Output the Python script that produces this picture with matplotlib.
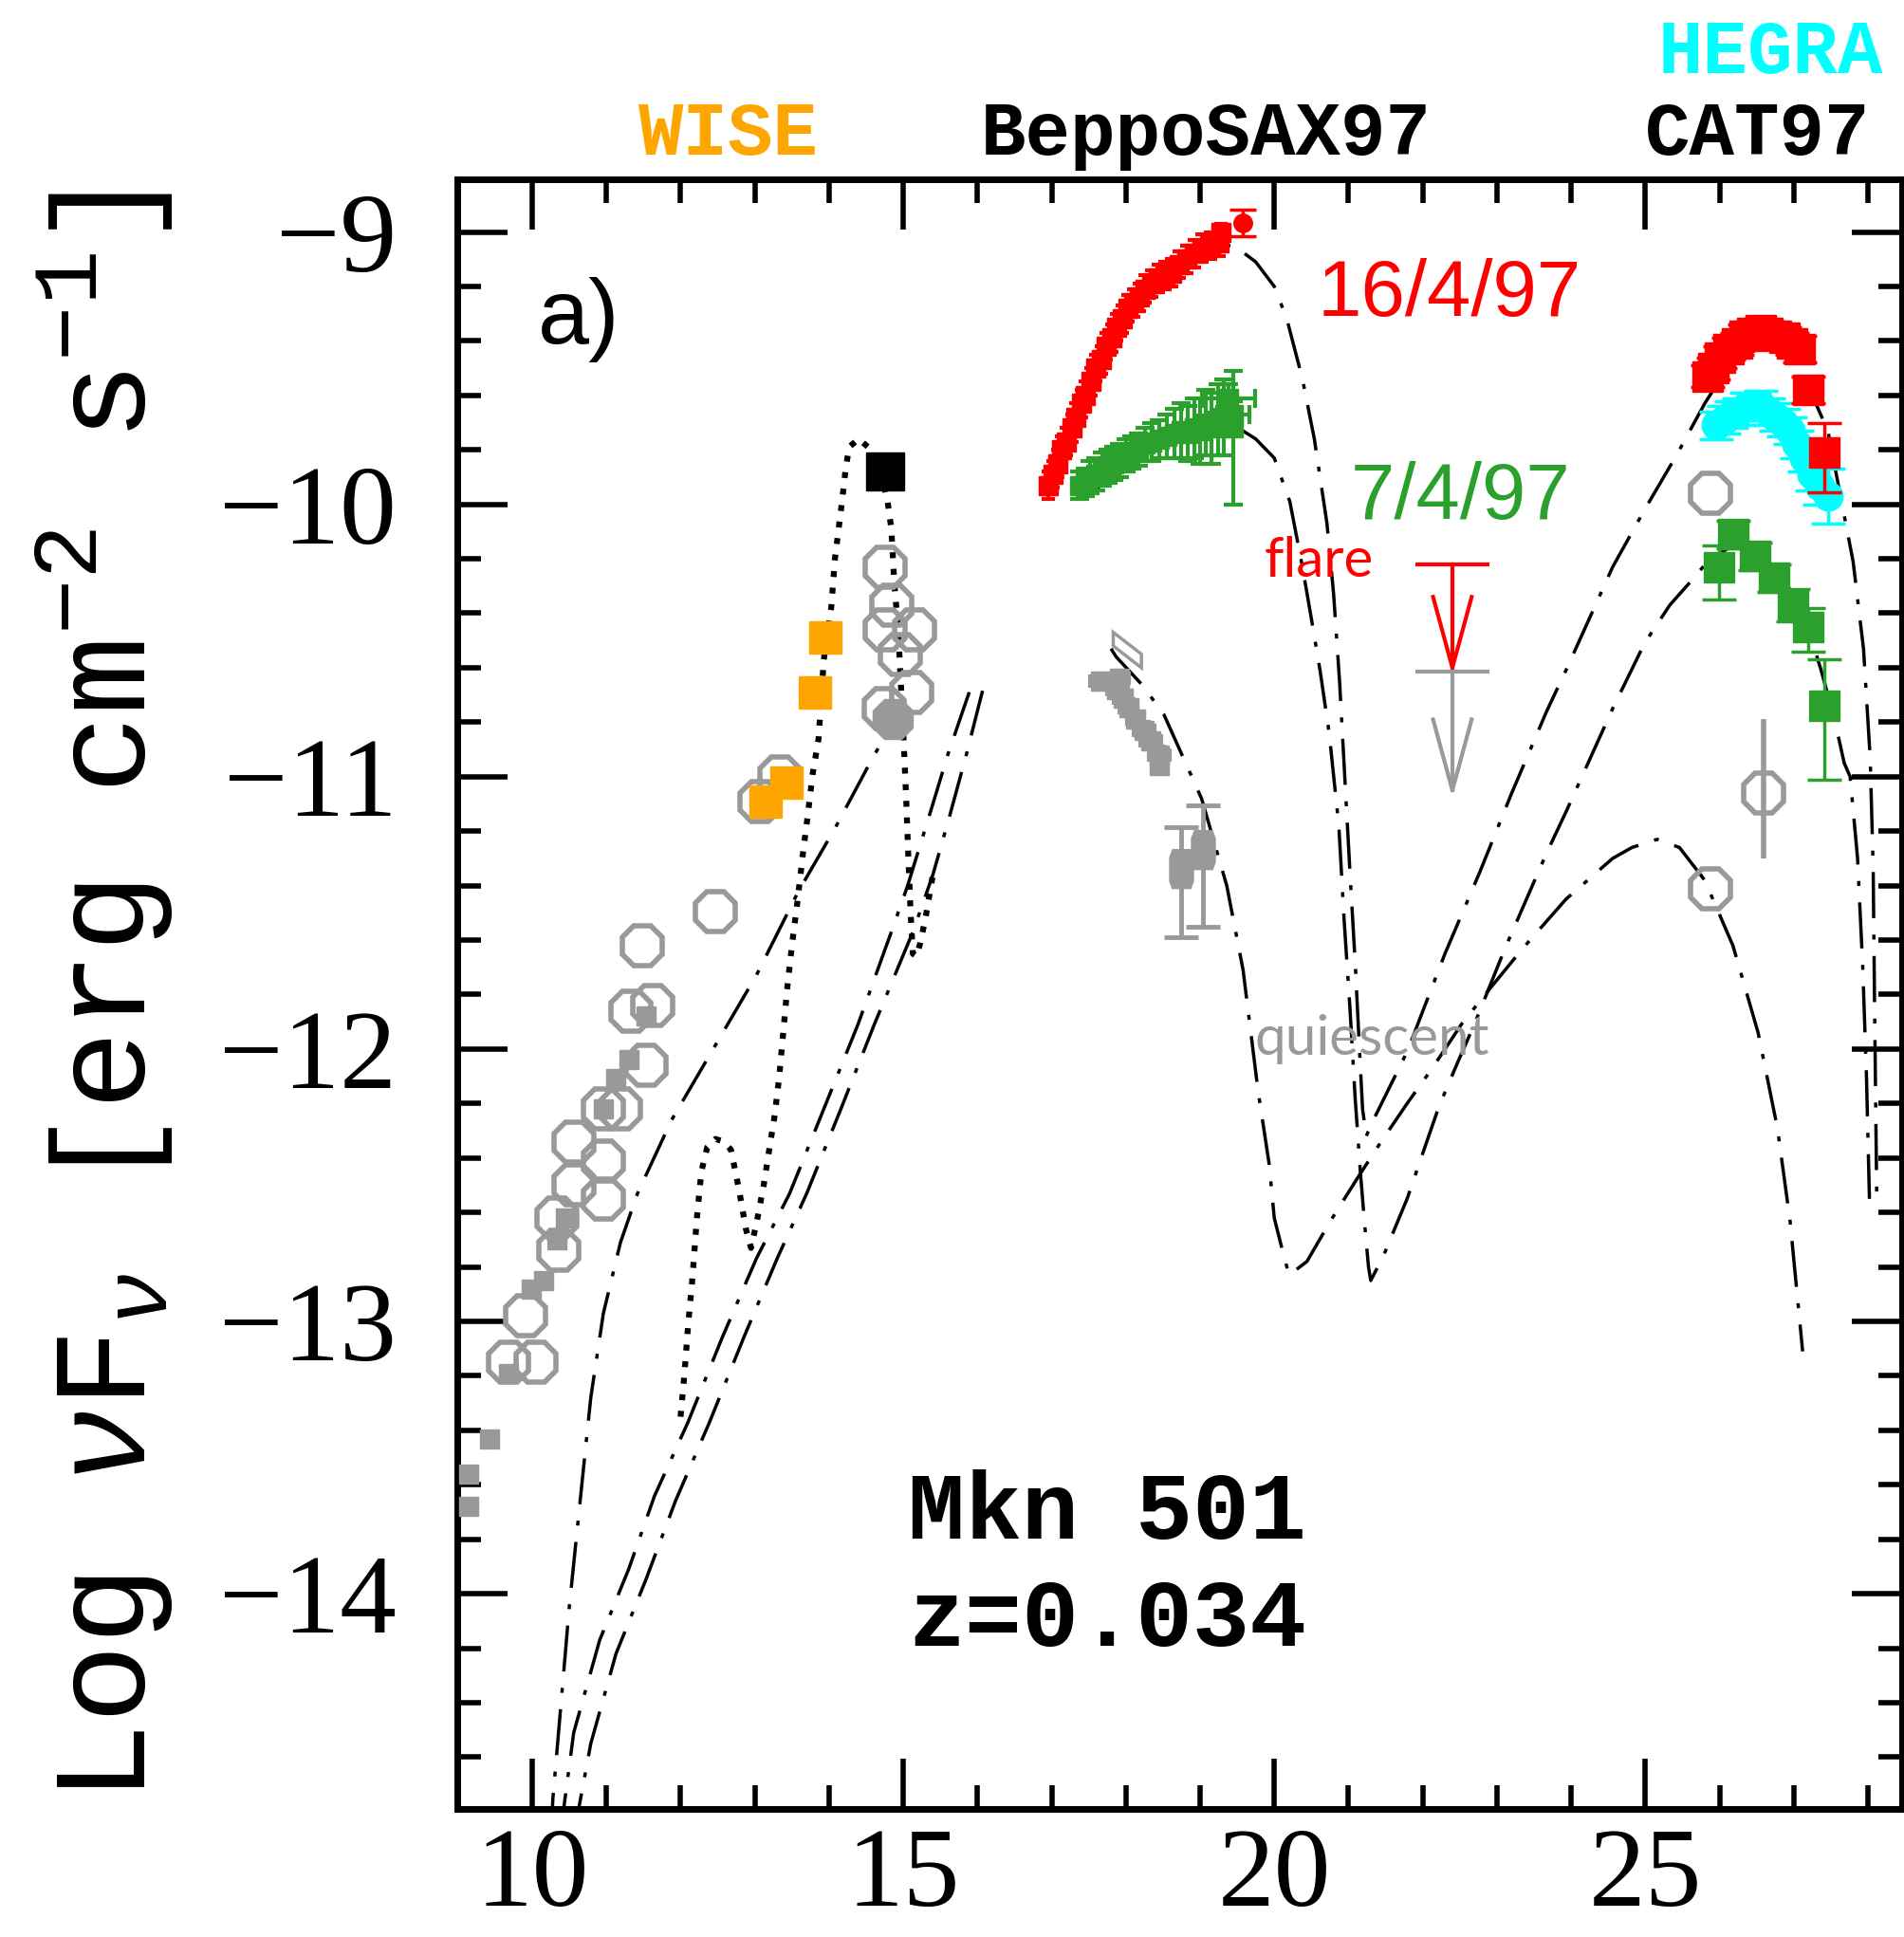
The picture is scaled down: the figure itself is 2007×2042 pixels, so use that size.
import numpy as np
import matplotlib
matplotlib.use("Agg")
import matplotlib.pyplot as plt
from matplotlib.ticker import MultipleLocator

plt.rcParams['mathtext.fontset'] = 'custom'
plt.rcParams['mathtext.rm'] = 'Liberation Mono'
plt.rcParams['mathtext.it'] = 'Liberation Mono:italic'

RED = '#ff0000'
GREEN = '#2ca02c'
GRAY = '#999999'
ORANGE = '#ffa500'
CYAN = '#00ffff'

# log nu [Hz]  vs  log nuF_nu [erg cm^-2 s^-1]

# archival radio -> optical (quiescent)
gray_sq_x = [9.15, 9.15, 9.43, 9.68, 9.99, 10.16, 10.33, 10.45, 10.96, 11.13, 11.30, 11.53]
gray_sq_y = [-13.68, -13.56, -13.43, -13.19, -12.88, -12.85, -12.70, -12.62, -12.22, -12.11, -12.04, -11.88]

gray_circ_x = [9.68, 10.05, 9.91, 10.33, 10.36, 10.56, 10.56, 10.96, 10.96, 10.96, 11.19, 11.33,
               11.53, 11.62, 11.48, 12.47, 13.07, 13.34, 14.75, 14.85, 14.76, 15.15, 14.96, 15.11, 14.74,
               25.88, 25.88]
gray_circ_y = [-13.15, -13.15, -12.98, -12.62, -12.74, -12.34, -12.50, -12.22, -12.41, -12.55, -12.22, -11.86,
               -12.06, -11.84, -11.62, -11.495, -11.09, -11.00, -10.23, -10.37, -10.46, -10.46, -10.55, -10.69, -10.75,
               -9.96, -11.41]
gray_fill_x = [14.86]
gray_fill_y = [-10.79]

# gray TeV point with error bar
gray_tev_x = [26.59]
gray_tev_y = [-11.06]
gray_tev_lo = [0.24]
gray_tev_hi = [0.27]

wise_x = [13.955, 13.81, 13.43, 13.15]
wise_y = [-10.49, -10.69, -11.02, -11.09]

uv_x = [14.76]
uv_y = [-9.88]

# BeppoSAX 16/4/97
red_sax_x = [16.95, 17.02, 17.08, 17.14, 17.20, 17.27, 17.33, 17.40, 17.46, 17.53, 17.60, 17.67, 17.74, 17.81,
             17.88, 17.95, 18.03, 18.10, 18.18, 18.26, 18.35, 18.44, 18.53, 18.62, 18.72, 18.82, 18.92, 19.03,
             19.14, 19.25, 19.28]
red_sax_y = [-9.93, -9.89, -9.85, -9.80, -9.77, -9.72, -9.68, -9.63, -9.60, -9.55, -9.50, -9.47, -9.42, -9.39,
             -9.35, -9.32, -9.28, -9.26, -9.24, -9.21, -9.19, -9.17, -9.16, -9.15, -9.12, -9.10, -9.08, -9.06,
             -9.05, -9.04, -9.00]
red_sax_yerr = [0.05, 0.05, 0.05, 0.05, 0.05, 0.05, 0.05, 0.05, 0.05, 0.05, 0.05, 0.05, 0.05, 0.05,
                0.05, 0.05, 0.05, 0.05, 0.05, 0.05, 0.05, 0.05, 0.05, 0.05, 0.05, 0.05, 0.05, 0.05,
                0.05, 0.05, 0.03]
red_sax_xerr = [0.05, 0.05, 0.05, 0.05, 0.05, 0.05, 0.05, 0.05, 0.05, 0.05, 0.06, 0.06, 0.06, 0.06,
                0.06, 0.06, 0.07, 0.07, 0.07, 0.07, 0.08, 0.08, 0.08, 0.08, 0.09, 0.09, 0.09, 0.09,
                0.10, 0.10, 0.10]
red_sax_top_x = [19.58]
red_sax_top_y = [-8.967]
red_sax_top_err = [0.05]

# BeppoSAX 7/4/97
green_sax_x = [17.38, 17.45, 17.52, 17.60, 17.68, 17.76, 17.84, 17.92, 18.00, 18.08, 18.17, 18.26, 18.35,
               18.45, 18.55, 18.65, 18.74, 18.83, 18.92, 19.00, 19.08, 19.16, 19.24, 19.32, 19.38, 19.45, 19.45]
green_sax_y = [-9.93, -9.92, -9.90, -9.89, -9.87, -9.86, -9.85, -9.84, -9.82, -9.81, -9.80, -9.78, -9.77,
               -9.76, -9.75, -9.74, -9.73, -9.74, -9.72, -9.73, -9.70, -9.72, -9.69, -9.68, -9.61, -9.67, -9.72]
green_sax_lo = [0.05, 0.05, 0.06, 0.06, 0.06, 0.06, 0.06, 0.06, 0.06, 0.06, 0.06, 0.06, 0.07,
                0.07, 0.08, 0.09, 0.10, 0.10, 0.11, 0.12, 0.12, 0.13, 0.13, 0.14, 0.05, 0.05, 0.28]
green_sax_hi = [0.05, 0.05, 0.06, 0.06, 0.06, 0.06, 0.06, 0.06, 0.06, 0.06, 0.06, 0.06, 0.07,
                0.07, 0.08, 0.09, 0.10, 0.10, 0.11, 0.12, 0.12, 0.13, 0.13, 0.14, 0.05, 0.05, 0.21]
green_sax_xerr = [0.06, 0.06, 0.06, 0.06, 0.06, 0.06, 0.06, 0.07, 0.07, 0.07, 0.07, 0.08, 0.08,
                  0.08, 0.09, 0.09, 0.09, 0.10, 0.10, 0.10, 0.11, 0.11, 0.12, 0.12, 0.36, 0.22, 0.0]

# BeppoSAX quiescent
gray_sax_x = [17.66, 17.87, 17.92, 17.96, 18.04, 18.13, 18.25, 18.34, 18.45, 18.45]
gray_sax_y = [-10.65, -10.68, -10.64, -10.71, -10.745, -10.79, -10.83, -10.87, -10.92, -10.96]
gray_sax_yerr = [0.03, 0.03, 0.03, 0.03, 0.03, 0.03, 0.03, 0.03, 0.03, 0.03]
gray_sax_xerr = [0.14, 0.12, 0.12, 0.12, 0.12, 0.12, 0.14, 0.14, 0.14, 0.0]
gray_big_x = [18.75, 19.04]
gray_big_y = [-11.34, -11.27]
gray_big_lo = [0.25, 0.28]
gray_big_hi = [0.155, 0.165]
bowtie_x = [17.83, 18.21, 18.21, 17.83]
bowtie_y = [-10.47, -10.55, -10.60, -10.52]

# upper limits
ul_x = [22.40, 22.40]
ul_y = [-10.22, -10.615]
ul_tip = [-10.60, -11.05]
ul_col = [RED, GRAY]

# TeV: CAT / HEGRA
red_tev_x = [25.84, 25.92, 26.01, 26.12, 26.23, 26.34, 26.44, 26.55, 26.65, 26.76, 26.87, 26.98, 27.08, 27.20, 27.41]
red_tev_y = [-9.53, -9.50, -9.46, -9.43, -9.41, -9.38, -9.37, -9.36, -9.37, -9.38, -9.39, -9.41, -9.43, -9.58, -9.81]
red_tev_lo = [0.04, 0.04, 0.04, 0.04, 0.04, 0.04, 0.04, 0.04, 0.04, 0.04, 0.04, 0.04, 0.05, 0.05, 0.145]
red_tev_hi = [0.04, 0.04, 0.04, 0.04, 0.04, 0.04, 0.04, 0.04, 0.04, 0.04, 0.04, 0.04, 0.05, 0.05, 0.11]

cyan_tev_x = [25.96, 26.06, 26.16, 26.26, 26.36, 26.46, 26.56, 26.66, 26.76, 26.86, 26.95, 27.04, 27.14,
              27.25, 27.35, 27.46]
cyan_tev_y = [-9.71, -9.69, -9.67, -9.66, -9.64, -9.64, -9.635, -9.66, -9.68, -9.70, -9.73, -9.78, -9.83,
              -9.89, -9.93, -9.97]
cyan_tev_err = [0.05, 0.05, 0.05, 0.05, 0.05, 0.05, 0.05, 0.05, 0.05, 0.05, 0.05, 0.05, 0.05, 0.06, 0.07, 0.10]

green_tev_x = [25.99, 26.18, 26.48, 26.74, 26.99, 27.20, 27.41]
green_tev_y = [-10.23, -10.11, -10.19, -10.27, -10.37, -10.45, -10.74]
green_tev_lo = [0.12, 0.05, 0.05, 0.05, 0.06, 0.09, 0.27]
green_tev_hi = [0.08, 0.05, 0.05, 0.05, 0.06, 0.07, 0.17]

# host galaxy template
host_x = [12.00, 12.05, 12.10, 12.16, 12.22, 12.28, 12.36, 12.47, 12.58, 12.68, 12.79, 12.88, 12.95, 13.03,
          13.12, 13.20, 13.27, 13.33, 13.39, 13.44, 13.50, 13.57, 13.65, 13.71, 13.78, 13.86, 13.93, 14.03,
          14.08, 14.13, 14.18, 14.22, 14.27, 14.40, 14.57, 14.70, 14.79, 14.84, 14.88, 14.93, 14.98, 15.01,
          15.04, 15.07, 15.10, 15.13, 15.18, 15.23, 15.30, 15.35, 15.40, 15.43]
host_y = [-13.35, -13.20, -13.02, -12.84, -12.62, -12.45, -12.36, -12.33, -12.34, -12.37, -12.52, -12.66, -12.73,
          -12.63, -12.50, -12.36, -12.24, -12.10, -11.92, -11.77, -11.62, -11.47, -11.28, -11.15, -10.99, -10.86,
          -10.57, -10.38, -10.20, -10.09, -9.98, -9.88, -9.79, -9.76, -9.80, -9.88, -9.99, -10.09, -10.29, -10.45,
          -10.72, -10.89, -11.08, -11.30, -11.50, -11.65, -11.66, -11.61, -11.52, -11.44, -11.36, -11.37]

# SSC models (synchrotron part, gap, then X-ray + IC part)
flare_x = [10.25, 10.28, 10.39, 10.50, 10.62, 10.79, 10.96, 11.19, 11.42, 11.88, 12.45, 13.02, 13.59, 14.08,
           14.57, 15.01, np.nan,
           16.98, 17.15, 17.36, 17.53, 17.74, 17.96, 18.17, 18.38, 18.64, 18.89, 19.15, 19.41, 19.53, 19.75,
           20.00, 20.17, 20.38, 20.54, 20.71, 20.80, 20.88, 20.95, 21.02, 21.09, 21.15, 21.19, 21.24, 21.30,
           21.79, 22.30, 22.77, 23.20, 23.67, 23.93, 24.56, 24.99, 25.42, 25.80, 26.01, 26.35, 26.61, 26.95,
           27.20, 27.46, 27.63, 27.80, 27.94, 28.03, 28.07, 28.09, 28.12]
flare_y = [-14.90, -14.75, -14.40, -14.05, -13.73, -13.28, -12.97, -12.71, -12.53, -12.26, -11.995, -11.73,
           -11.42, -11.19, -10.94, -10.73, np.nan,
           -9.94, -9.80, -9.63, -9.52, -9.43, -9.34, -9.26, -9.20, -9.135, -9.083, -9.05, -9.05, -9.065, -9.11,
           -9.20, -9.32, -9.54, -9.76, -10.07, -10.33, -10.65, -11.00, -11.35, -11.68, -12.01, -12.22, -12.32,
           -12.28, -12.01, -11.65, -11.35, -11.06, -10.76, -10.61, -10.23, -10.02, -9.82, -9.63, -9.54, -9.45,
           -9.42, -9.45, -9.57, -9.73, -9.97, -10.21, -10.53, -10.93, -11.33, -11.86, -12.58]

green_x = [10.36, 10.42, 10.56, 10.91, 11.30, 11.65, 12.10, 12.56, 13.02, 13.47, 13.93, 14.39, 14.84, 15.06,
           15.40, 15.60, 15.94, np.nan,
           17.62, 17.96, 18.21, 18.51, 18.81, 19.06, 19.32, 19.49, 19.75, 20.00, 20.21, 20.38, 20.50, 20.62,
           20.74, 20.87, 20.94, 21.02, 21.09, 21.16, 21.22, 21.27, 21.30, 21.47, 21.79, 22.03, 22.22, 22.47,
           22.71, 23.11, 23.67, 23.93, 24.56, 24.99, 25.33, 25.59, 25.84, 26.18, 26.52, 26.83, 27.12, 27.37,
           27.55, 27.68, 27.76, 27.86, 27.93, 27.98, 28.02]
green_y = [-14.90, -14.80, -14.51, -14.17, -13.91, -13.64, -13.37, -13.06, -12.77, -12.53, -12.22, -11.91,
           -11.57, -11.40, -11.10, -10.92, -10.65, np.nan,
           -9.94, -9.855, -9.80, -9.75, -9.71, -9.70, -9.70, -9.715, -9.76, -9.83, -9.99, -10.23, -10.42,
           -10.615, -10.84, -11.18, -11.52, -11.85, -12.18, -12.45, -12.65, -12.80, -12.85, -12.76, -12.55,
           -12.36, -12.21, -12.05, -11.90, -11.63, -11.28, -11.13, -10.75, -10.51, -10.37, -10.29, -10.21,
           -10.15, -10.17, -10.26, -10.39, -10.61, -10.79, -10.95, -11.00, -11.30, -11.70, -12.10, -12.55]

quiet_x = [10.56, 10.62, 10.79, 11.13, 11.53, 11.93, 12.39, 12.85, 13.30, 13.70, 14.16, 14.61, 15.13, 15.40,
           15.62, 15.85, 16.12, np.nan,
           17.80, 17.87, 18.21, 18.51, 19.02, 19.36, 19.58, 19.78, 19.93, 20.00, 20.12, 20.20, 20.44, 20.76,
           21.13, 21.44, 21.79, 22.13, 22.52, 22.87, 23.35, 23.93, 24.56, 24.82, 25.16, 25.46, 25.80, 26.18,
           26.52, 26.78, 26.95, 27.12]
quiet_y = [-14.90, -14.80, -14.55, -14.22, -13.95, -13.66, -13.37, -13.06, -12.77, -12.53, -12.22, -11.91,
           -11.57, -11.36, -11.15, -10.92, -10.63, np.nan,
           -10.53, -10.56, -10.66, -10.77, -11.08, -11.40, -11.71, -12.15, -12.42, -12.62, -12.75, -12.83,
           -12.78, -12.63, -12.47, -12.34, -12.20, -12.07, -11.91, -11.79, -11.63, -11.45, -11.30, -11.26,
           -11.23, -11.26, -11.38, -11.62, -11.94, -12.29, -12.63, -13.11]

fig = plt.figure(figsize=(20.08, 20.42), dpi=100)
ax = fig.add_axes([0.2400, 0.0661, 0.7585, 0.8413])

MODEL_LS = (0, (14, 5, 1.5, 5))
for mx, my in [(flare_x, flare_y), (green_x, green_y), (quiet_x, quiet_y)]:
    ax.plot(mx, my, color='k', lw=2.5, ls=MODEL_LS, zorder=3)
ax.plot(host_x, host_y, color='k', lw=4.5, ls=(0, (1, 1.8)), zorder=3)

# radio / IR / optical
ax.plot(gray_sq_x, gray_sq_y, 's', color=GRAY, ms=15, zorder=4)
ax.plot(gray_circ_x, gray_circ_y, '8', mfc='none', mec=GRAY, mew=4, ms=32, zorder=4)
ax.plot(gray_fill_x, gray_fill_y, '8', color=GRAY, ms=32, zorder=4)
ax.errorbar(gray_tev_x, gray_tev_y, yerr=[gray_tev_lo, gray_tev_hi], fmt='8', mfc='none', mec=GRAY,
            mew=4, ms=32, ecolor=GRAY, elinewidth=4, capsize=0, zorder=4)
ax.plot(wise_x, wise_y, 's', color=ORANGE, ms=25, zorder=5)
ax.plot(uv_x, uv_y, 's', color='k', ms=29, zorder=5)

# X-ray
ax.errorbar(red_sax_x, red_sax_y, yerr=red_sax_yerr, xerr=red_sax_xerr, fmt='s', ms=15, color=RED,
            elinewidth=3, capsize=5, capthick=3, zorder=4)
ax.errorbar(red_sax_top_x, red_sax_top_y, yerr=red_sax_top_err, fmt='o', ms=14, color=RED,
            elinewidth=2.5, capsize=10, capthick=2.5, zorder=4)
ax.errorbar(green_sax_x, green_sax_y, yerr=[green_sax_lo, green_sax_hi], xerr=green_sax_xerr, fmt='s', ms=14,
            color=GREEN, elinewidth=3, capsize=7, capthick=3, zorder=4)
ax.errorbar(gray_sax_x, gray_sax_y, yerr=gray_sax_yerr, xerr=gray_sax_xerr, fmt='s', ms=14, color=GRAY,
            elinewidth=3, capsize=5, capthick=3, zorder=4)
barrel = [(-0.45, -1), (-0.6, -0.6), (-0.6, 0.6), (-0.45, 1), (0.45, 1), (0.6, 0.6), (0.6, -0.6), (0.45, -1)]
ax.errorbar(gray_big_x, gray_big_y, yerr=[gray_big_lo, gray_big_hi], fmt='none', ecolor=GRAY,
            elinewidth=3.5, capsize=13, capthick=3.5, zorder=4)
ax.plot(gray_big_x, gray_big_y, marker=barrel, ls='none', color=GRAY, ms=30, zorder=4)
ax.fill(bowtie_x, bowtie_y, fc='none', ec=GRAY, lw=2.5, zorder=4)

# upper limits
for x, y, tip, c in zip(ul_x, ul_y, ul_tip, ul_col):
    ax.plot([x - 0.5, x + 0.5], [y, y], color=c, lw=3, solid_capstyle='butt', zorder=4)
    ax.plot([x, x], [y, tip], color=c, lw=3, zorder=4)
    ax.plot([x - 0.26, x, x + 0.26], [tip + 0.26, tip, tip + 0.26], color=c, lw=3, zorder=4)

# TeV
ax.errorbar(red_tev_x, red_tev_y, yerr=[red_tev_lo, red_tev_hi], fmt='s', ms=23, color=RED,
            elinewidth=2.5, capsize=13, capthick=2.5, zorder=4)
ax.errorbar(cyan_tev_x, cyan_tev_y, yerr=cyan_tev_err, fmt='o', ms=22, color=CYAN,
            elinewidth=2.5, capsize=13, capthick=2.5, zorder=3.5)
ax.errorbar(green_tev_x, green_tev_y, yerr=[green_tev_lo, green_tev_hi], fmt='s', ms=23, color=GREEN,
            elinewidth=2.5, capsize=13, capthick=2.5, zorder=4)

ax.set_xlim(8.99, 28.46)
ax.set_ylim(-14.79, -8.807)
ax.set_xticks([10, 15, 20, 25])
ax.set_xticklabels(['10', '15', '20', '25'])
ax.set_yticks([-14, -13, -12, -11, -10, -9])
ax.set_yticklabels(['\u221214', '\u221213', '\u221212', '\u221211', '\u221210', '\u22129'])
ax.xaxis.set_minor_locator(MultipleLocator(1))
ax.yaxis.set_minor_locator(MultipleLocator(0.2))
ax.tick_params(which='both', direction='in', top=True, right=True, width=4, color='k')
ax.tick_params(which='major', length=38, labelsize=86, labelfontfamily='Liberation Serif')
ax.tick_params(which='minor', length=18)
ax.tick_params(axis='x', pad=14)
ax.tick_params(axis='y', pad=46)
for s in ax.spines.values():
    s.set_linewidth(5)

ax.text(10.08, -9.41, 'a)', fontsize=70, family='Liberation Sans', ha='left', va='baseline')
ax.text(20.585, -9.308, '16/4/97', color=RED, fontsize=60, family='Liberation Sans', va='baseline')
ax.text(21.03, -10.054, '7/4/97', color=GREEN, fontsize=60, family='Liberation Sans', va='baseline')
ax.text(19.87, -10.265, 'flare', color=RED, fontsize=42, family='Lato', va='baseline')
ax.text(19.73, -12.02, 'quiescent', color=GRAY, fontsize=42, family='Lato', va='baseline')
ax.text(15.06, -13.796, 'Mkn 501', fontsize=72, family='Liberation Mono', weight='bold', va='baseline')
ax.text(15.06, -14.19, 'z=0.034', fontsize=72, family='Liberation Mono', weight='bold', va='baseline')

top_kw = dict(fontsize=57, family='Liberation Mono', weight='bold', ha='center', va='baseline')
fig.text(0.3825, 0.9202, 'WISE', color=ORANGE, **top_kw)
fig.text(0.633, 0.9202, 'BeppoSAX97', color='k', **top_kw)
fig.text(0.9228, 0.9202, 'CAT97', color='k', **top_kw)
fig.text(0.9293, 0.9623, 'HEGRA', color=CYAN, **top_kw)

fig.text(0.0548, 0.4853, r'Log $\nu$F$_{\nu}$ [erg cm$^{-2}$ s$^{-1}$]', rotation=90,
         fontsize=100, family='Liberation Mono', ha='center', va='center')

fig.savefig('out.png', dpi=100)
